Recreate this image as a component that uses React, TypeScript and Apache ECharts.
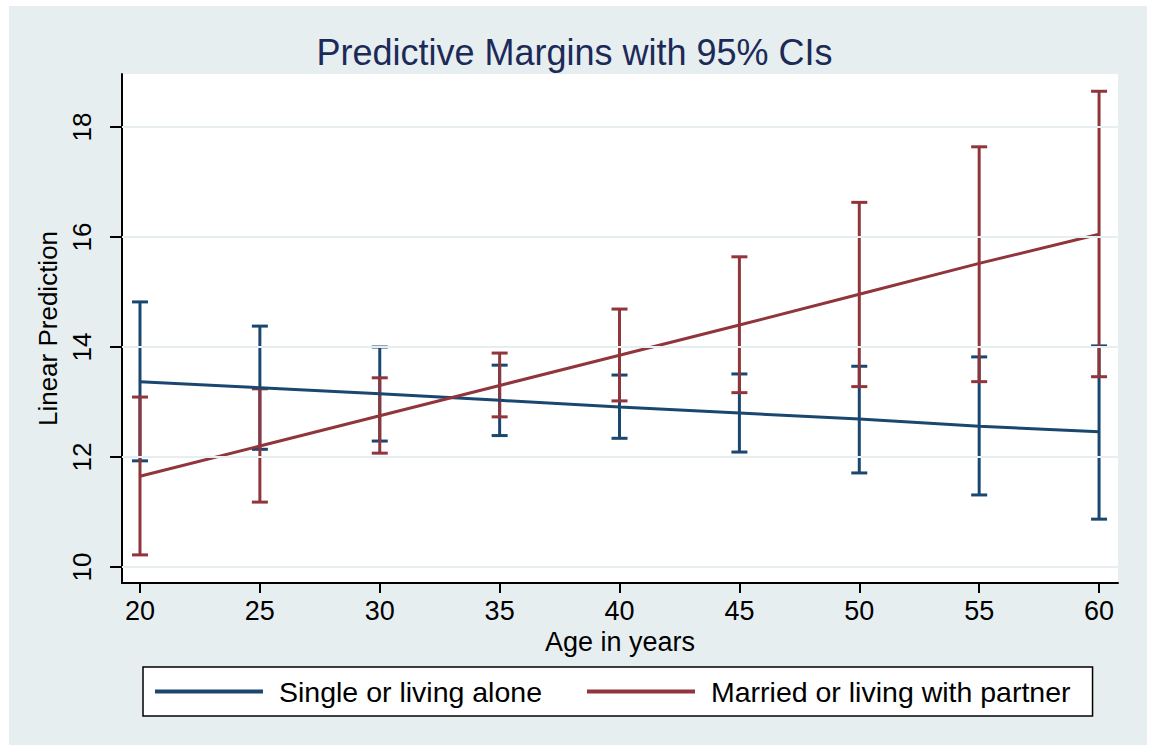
import React, { useEffect, useRef } from "react";
import * as echarts from "echarts";

const ages = [20, 25, 30, 35, 40, 45, 50, 55, 60];
const singleMean = [13.37, 13.26, 13.15, 13.03, 12.91, 12.8, 12.69, 12.56, 12.46];
const singleLow = [11.93, 12.14, 12.29, 12.39, 12.34, 12.09, 11.71, 11.31, 10.87];
const singleHigh = [14.82, 14.38, 14.0, 13.67, 13.49, 13.51, 13.65, 13.82, 14.02];
const marriedMean = [11.65, 12.2, 12.75, 13.3, 13.85, 14.4, 14.96, 15.52, 16.05];
const marriedLow = [10.22, 11.18, 12.07, 12.73, 13.02, 13.17, 13.28, 13.37, 13.46];
const marriedHigh = [13.09, 13.24, 13.44, 13.89, 14.69, 15.64, 16.63, 17.64, 18.65];
const xTicks = [20, 25, 30, 35, 40, 45, 50, 55, 60];
const yTicks = [10, 12, 14, 16, 18];

const BLUE = "#1a476f";
const RED = "#90353b";
const BG = "#e7eef0";
const GRID = "#e6eef0";
const FONT = "'Liberation Sans', Arial, sans-serif";

function ciRender(color: string) {
  return (params: any, api: any) => {
    const x = api.value(0);
    const lo = api.coord([x, api.value(1)]);
    const hi = api.coord([x, api.value(2)]);
    const hw = 8;
    const style = { stroke: color, lineWidth: 3 };
    return {
      type: "group",
      children: [
        { type: "line", shape: { x1: lo[0], y1: lo[1], x2: hi[0], y2: hi[1] }, style },
        { type: "line", shape: { x1: lo[0] - hw, y1: lo[1], x2: lo[0] + hw, y2: lo[1] }, style },
        { type: "line", shape: { x1: hi[0] - hw, y1: hi[1], x2: hi[0] + hw, y2: hi[1] }, style },
      ],
    };
  };
}

export default function App() {
  const ref = useRef<HTMLDivElement>(null);
  useEffect(() => {
    if (!ref.current) return;
    const chart = echarts.init(ref.current, undefined, { renderer: "svg" });
    const singleCI = ages.map((a, i) => [a, singleLow[i], singleHigh[i]]);
    const marriedCI = ages.map((a, i) => [a, marriedLow[i], marriedHigh[i]]);
    chart.setOption({
      animation: false,
      textStyle: { fontFamily: FONT },
      graphic: [
        {
          type: "rect",
          z: -10,
          silent: true,
          shape: { x: 9, y: 6, width: 1138, height: 739 },
          style: { fill: BG },
        },
      ],
      title: {
        text: "Predictive Margins with 95% CIs",
        left: "center",
        top: 29,
        textStyle: { fontSize: 36, fontWeight: "normal", color: "#1c2a58", fontFamily: FONT },
      },
      grid: {
        left: 122,
        top: 74,
        right: 31,
        bottom: 163,
        show: true,
        backgroundColor: "#ffffff",
        borderWidth: 0,
        containLabel: false,
      },
      xAxis: {
        type: "value",
        min: 19.25,
        max: 60.79,
        name: "Age in years",
        nameLocation: "middle",
        nameGap: 41,
        nameTextStyle: { fontSize: 27, color: "#000", fontFamily: FONT },
        axisLine: { show: true, onZero: false, lineStyle: { color: "#000", width: 2 } },
        axisTick: { show: true, customValues: xTicks, length: 10, lineStyle: { color: "#000", width: 2 } },
        axisLabel: { customValues: xTicks, fontSize: 27, color: "#000", margin: 14, fontFamily: FONT },
        splitLine: { show: false },
      },
      yAxis: {
        type: "value",
        min: 9.709,
        max: 18.964,
        name: "Linear Prediction",
        nameLocation: "middle",
        nameRotate: 90,
        nameGap: 59,
        nameTextStyle: { fontSize: 26, color: "#000", fontFamily: FONT },
        axisLine: { show: true, onZero: false, lineStyle: { color: "#000", width: 2 } },
        axisTick: { show: true, customValues: yTicks, length: 12, lineStyle: { color: "#000", width: 2 } },
        axisLabel: { customValues: yTicks, fontSize: 26, color: "#000", margin: 27, rotate: 90, fontFamily: FONT },
        splitLine: { show: false },
      },
      legend: {
        data: ["Single or living alone", "Married or living with partner"],
        left: 143,
        top: 667,
        orient: "horizontal",
        backgroundColor: "#ffffff",
        borderColor: "#000",
        borderWidth: 1.5,
        borderRadius: 0,
        padding: [10, 22, 10, 12],
        itemGap: 45,
        itemWidth: 108,
        itemHeight: 4,
        icon: "rect",
        selectedMode: false,
        textStyle: { fontSize: 28.5, color: "#000", padding: [0, 0, 0, 11], fontFamily: FONT },
      },
      series: [
        {
          type: "line",
          name: "gridlines",
          data: [],
          silent: true,
          markLine: {
            silent: true,
            symbol: "none",
            label: { show: false },
            lineStyle: { color: GRID, width: 2, type: "solid" },
            data: yTicks.map((v) => ({ yAxis: v })),
          },
        },
        {
          type: "custom",
          name: "Single CI",
          renderItem: ciRender(BLUE),
          data: singleCI,
          encode: { x: 0, y: [1, 2] },
        },
        {
          type: "custom",
          name: "Married CI",
          renderItem: ciRender(RED),
          data: marriedCI,
          encode: { x: 0, y: [1, 2] },
        },
        {
          type: "line",
          name: "Single or living alone",
          color: BLUE,
          showSymbol: false,
          lineStyle: { color: BLUE, width: 3 },
          itemStyle: { color: BLUE },
          data: ages.map((a, i) => [a, singleMean[i]]),
        },
        {
          type: "line",
          name: "Married or living with partner",
          color: RED,
          showSymbol: false,
          lineStyle: { color: RED, width: 3 },
          itemStyle: { color: RED },
          data: ages.map((a, i) => [a, marriedMean[i]]),
        },
      ],
    });
    return () => chart.dispose();
  }, []);
  return (
    <div
      ref={ref}
      style={{ position: "fixed", left: 0, top: 0, width: 1149, height: 746, background: "#ffffff" }}
    />
  );
}
